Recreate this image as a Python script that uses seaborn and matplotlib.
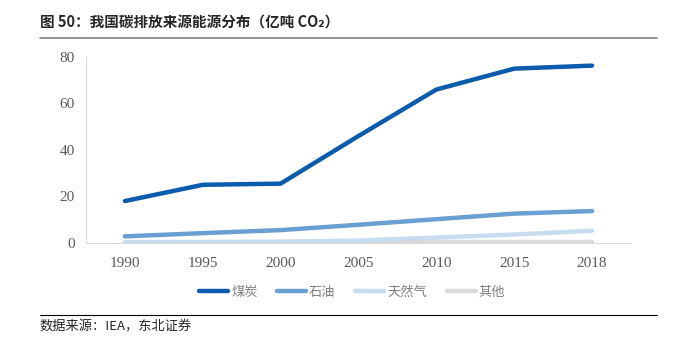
import numpy as np
import pandas as pd
import matplotlib
matplotlib.use("Agg")
import matplotlib.pyplot as plt
import seaborn as sns

years = ["1990", "1995", "2000", "2005", "2010", "2015", "2018"]
coal = [18.0, 25.0, 25.5, 46.0, 66.0, 75.0, 76.3]
oil = [2.8, 4.2, 5.5, 7.8, 10.2, 12.6, 13.7]
gas = [0.2, 0.3, 0.5, 1.0, 2.3, 3.6, 5.2]
other = [0.2, 0.2, 0.2, 0.2, 0.2, 0.2, 0.2]
series = ["煤炭", "石油", "天然气", "其他"]
colors = ["#0B5CAD", "#6A9FD2", "#C8DCEF", "#D9D9D9"]

df = pd.DataFrame({"年份": years, "煤炭": coal, "石油": oil, "天然气": gas, "其他": other})
long = df.melt(id_vars="年份", var_name="类别", value_name="值")
long["x"] = long["年份"].map({y: i for i, y in enumerate(years)})

sns.set_style("white")
plt.rcParams["font.family"] = ["Liberation Serif", "Noto Sans CJK SC", "DejaVu Sans"]

fig = plt.figure(figsize=(6.77, 3.52), dpi=100)
ax = fig.add_axes([0.127, 0.310, 0.805, 0.528])

sns.lineplot(data=long, x="x", y="值", hue="类别", hue_order=series[::-1],
             palette=dict(zip(series, colors)), linewidth=3.2, ax=ax, legend=False,
             solid_capstyle="round")

ax.set_xlim(-0.5, len(years) - 0.5)
ax.set_ylim(0, 80)
ax.set_yticks([0, 20, 40, 60, 80])
ax.set_xticks(range(len(years)))
ax.set_xticklabels(years)
ax.set_xticks(np.arange(-0.5, len(years), 1), minor=True)
ax.tick_params(axis="x", which="major", length=0, pad=10, labelsize=11, labelcolor="#595959")
ax.tick_params(axis="x", which="minor", length=4, color="#D9D9D9", width=0.8)
ax.tick_params(axis="y", length=0, pad=8, labelsize=11, labelcolor="#595959")
ax.set_xlabel("")
ax.set_ylabel("")
for s in ["top", "right"]:
    ax.spines[s].set_visible(False)
for s in ["left", "bottom"]:
    ax.spines[s].set_color("#D9D9D9")
    ax.spines[s].set_linewidth(0.8)

handles = [plt.Line2D([0], [0], color=c, lw=3.2, solid_capstyle="round") for c in colors]
fig.legend(handles, series, loc="center", bbox_to_anchor=(0.52, 0.17), ncol=4,
           frameon=False, handlelength=2.2, columnspacing=1.5,
           handletextpad=0.2, labelcolor="#7F7F7F",
           prop={"family": ["Noto Sans CJK SC"], "size": 9.5})

fig.text(0.059, 0.935, "图 50：我国碳排放来源能源分布（亿吨 CO₂）", fontsize=10.5, fontweight="bold",
         va="center", ha="left", family=["Noto Sans CJK SC", "DejaVu Sans"])
fig.add_artist(plt.Line2D([0.059, 0.971], [0.892, 0.892], color="#7F7F7F", lw=1.2))
fig.add_artist(plt.Line2D([0.059, 0.971], [0.105, 0.105], color="black", lw=0.8))
fig.text(0.059, 0.07, "数据来源：IEA，东北证券", fontsize=9.5, va="center", ha="left",
         family=["Noto Sans CJK SC", "DejaVu Sans"])

fig.savefig("out.png", dpi=100)
